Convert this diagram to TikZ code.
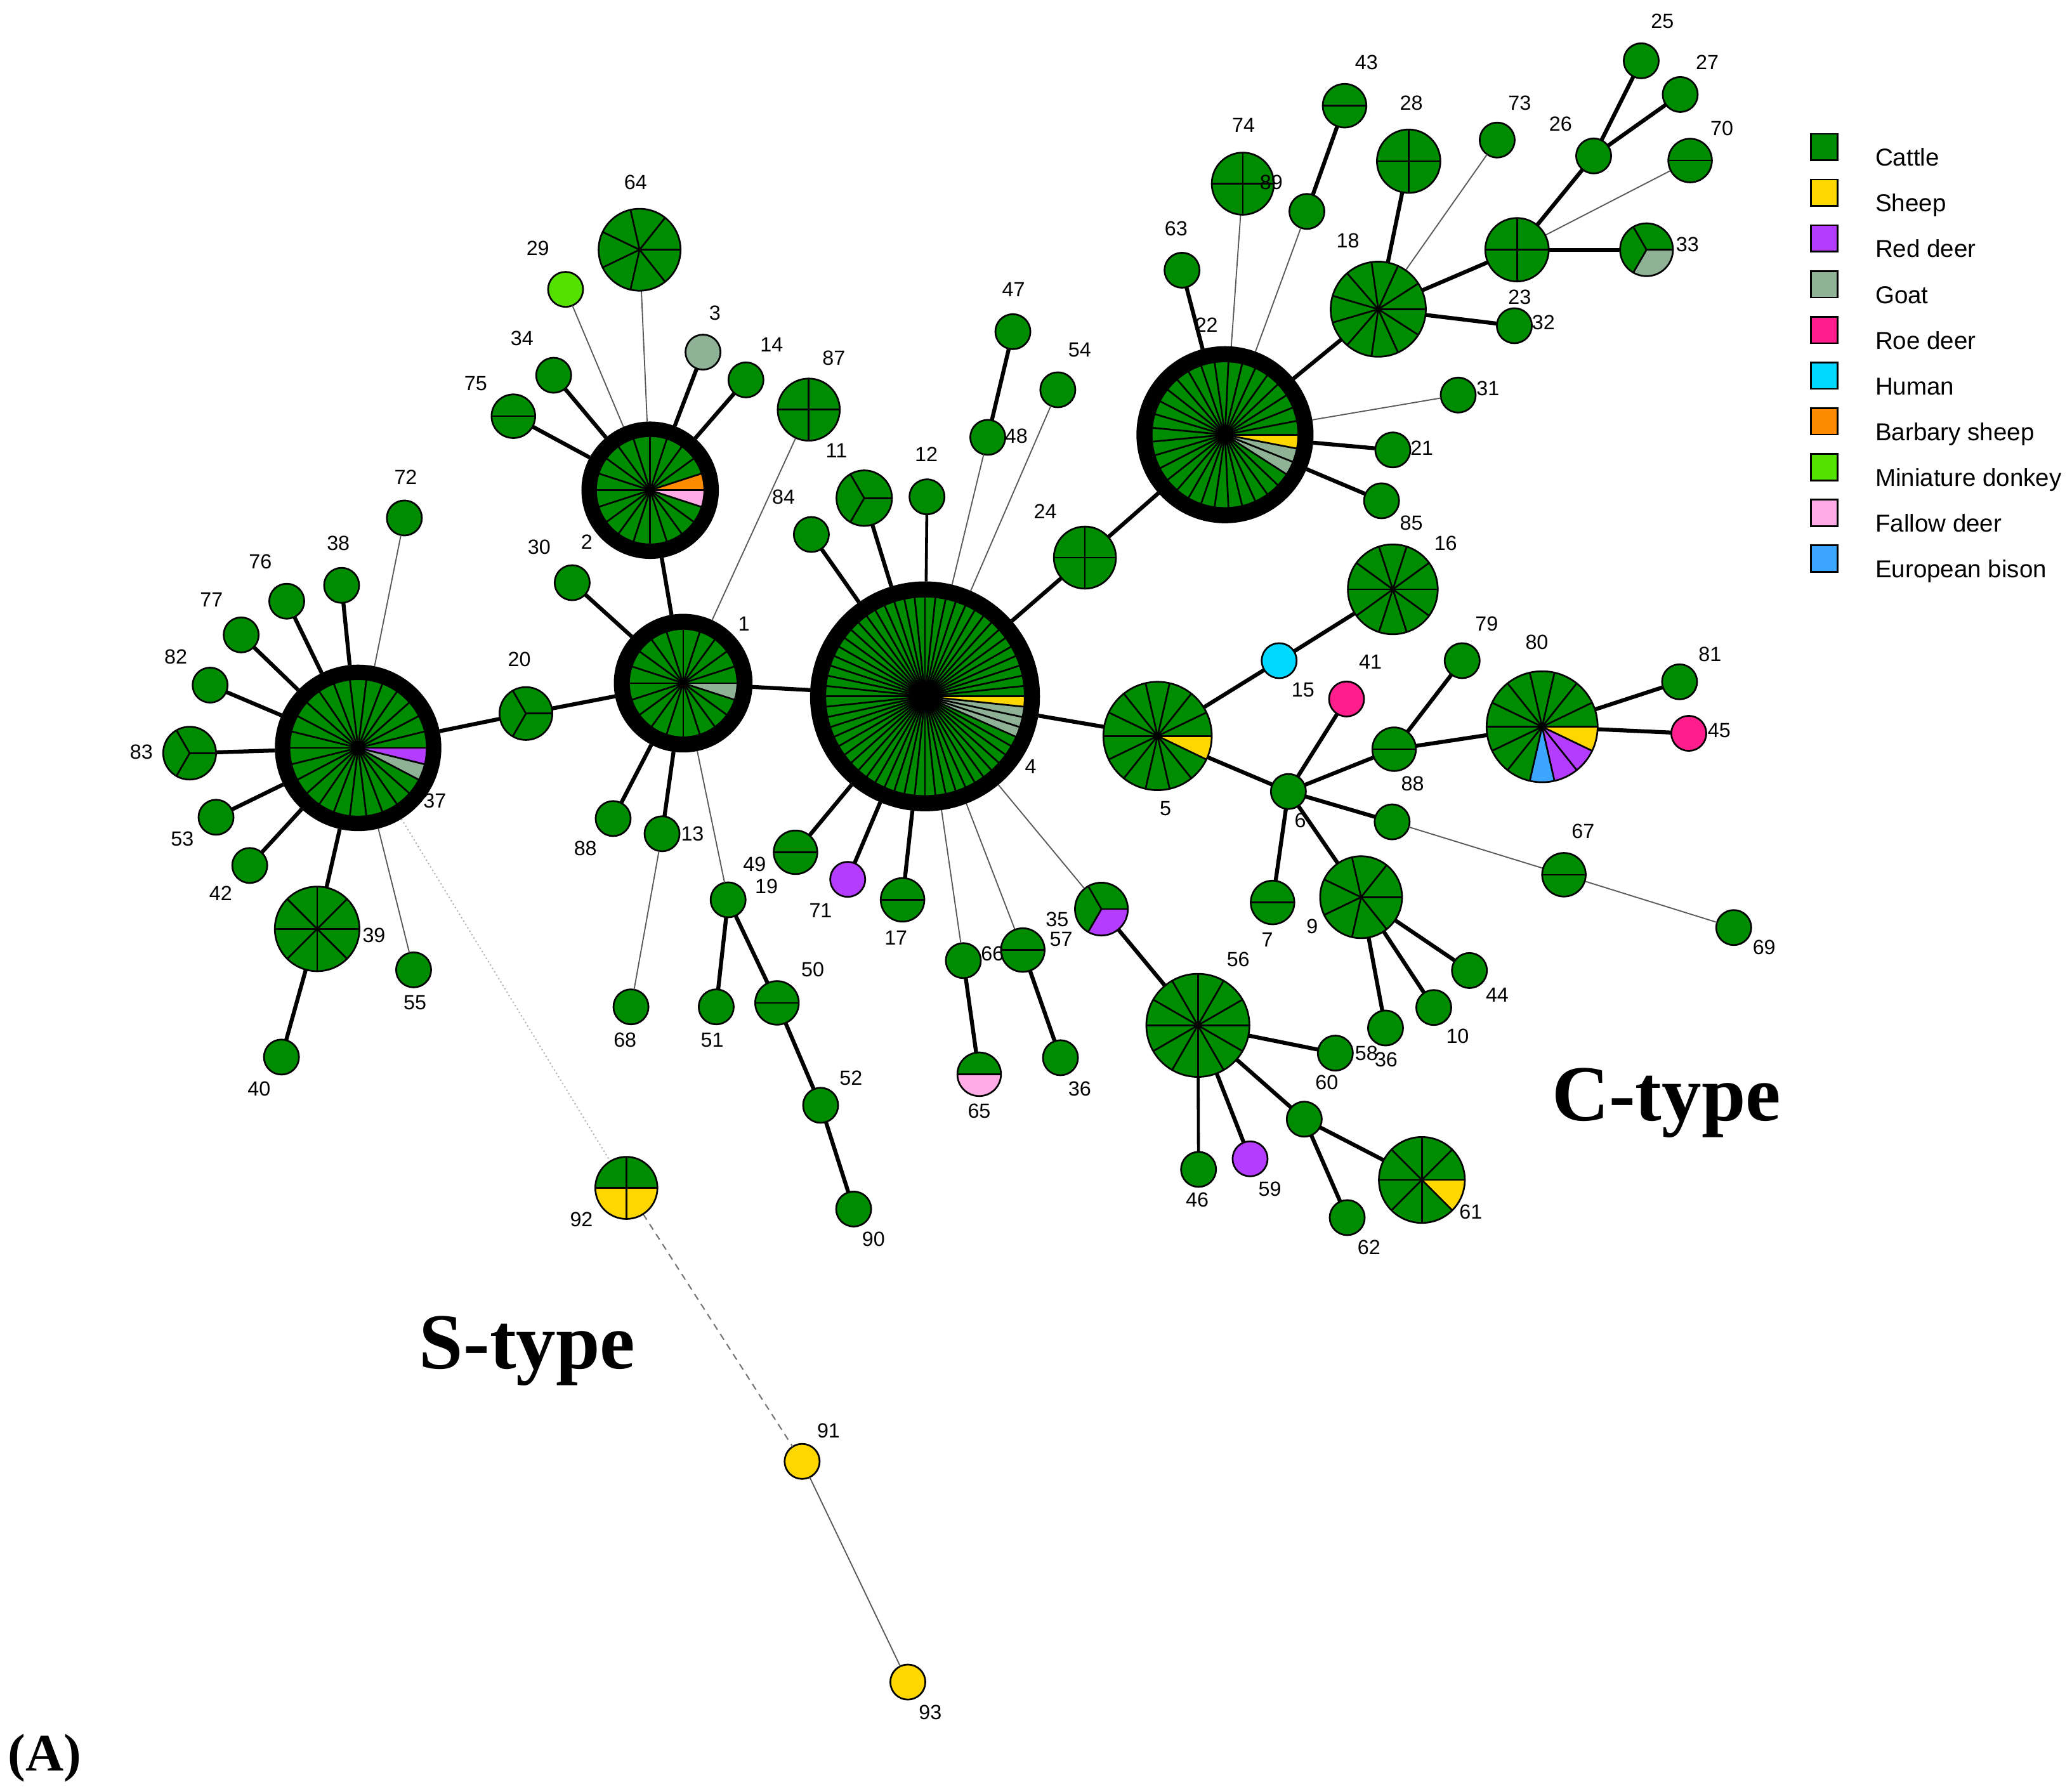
\documentclass[tikz,border=0pt]{standalone}
\usepackage{fontspec}
\setmainfont{Liberation Sans}
\newfontfamily\serifbf{Liberation Serif}
\definecolor{cattle}{RGB}{0,140,0}
\definecolor{sheep}{RGB}{255,215,0}
\definecolor{reddeer}{RGB}{180,60,255}
\definecolor{goat}{RGB}{143,178,150}
\definecolor{roedeer}{RGB}{255,30,140}
\definecolor{human}{RGB}{0,215,255}
\definecolor{barbary}{RGB}{255,140,0}
\definecolor{donkey}{RGB}{85,225,0}
\definecolor{fallow}{RGB}{255,172,230}
\definecolor{bison}{RGB}{60,165,255}
% invisible holder for a pie node
\newcommand{\pn}[4]{\node[circle,inner sep=0pt,outer sep=0pt,minimum size={2*#4 pt}] (#1) at (#2,-#3) {};}
% single-colour node
\newcommand{\sn}[4]{\node[snode,fill=#4] (#1) at (#2,-#3) {};}
% label
\newcommand{\lb}[4]{\node[lbl] (#1) at (#2,-#3) {#4};}
% pie: name, radius, slices, start angle, special colours (clockwise)
\newcommand{\mstpie}[5]{%
  \fill[cattle] (#1.center) circle[radius=#2pt];
  \pgfmathsetmacro{\myDa}{360/#3}
  \foreach \cc [count=\ii from 0] in {#5}{
    \pgfmathsetmacro{\mySa}{#4-\ii*\myDa}
    \fill[fill=\cc] (#1.center) -- ++(\mySa:#2pt) arc[start angle=\mySa, delta angle=-\myDa, radius=#2pt] -- cycle;
  }
  \foreach \kk in {1,...,#3}{
    \pgfmathsetmacro{\myLa}{#4-\kk*\myDa}
    \draw[pline] (#1.center) -- ++(\myLa:#2pt);
  }
  \draw[pline] (#1.center) circle[radius=#2pt];
}
\newcommand{\hubring}[3]{\draw[line width=#3pt,black] (#1.center) circle[radius=#2pt];}
\begin{document}
\begin{tikzpicture}[x=1pt,y=1pt,
  snode/.style={circle,draw=black,line width=1.3pt,inner sep=0pt,outer sep=0pt,minimum size=26.5pt},
  pline/.style={draw=black,line width=1.3pt},
  ek/.style={line width=3pt,black},
  em/.style={line width=2.2pt,black},
  et/.style={line width=0.9pt,black!65},
  edot/.style={line width=1pt,black!30,dotted},
  edash/.style={line width=1pt,black!55,dash pattern=on 5pt off 4pt},
  lbl/.style={font=\fontsize{15.5}{18}\selectfont,inner sep=0pt},
  legsq/.style={draw=black,line width=1.3pt,minimum size=20pt,inner sep=0pt},
  legtx/.style={font=\fontsize{18.5}{22}\selectfont,anchor=base west,inner sep=0pt},
  typetx/.style={font=\serifbf\bfseries\fontsize{60}{70}\selectfont,anchor=base,inner sep=0pt}
]
\useasboundingbox (0,0) rectangle (1568,-1352);

% ---------- hubs and pie holders ----------
\pn{n4}{700}{527}{87}
\pn{n22}{927}{329}{67}
\pn{n37}{271}{566}{63}
\pn{n1}{517}{517}{52.5}
\pn{n2}{492}{371}{52}
\pn{n83}{143.5}{570}{20}
\pn{n39}{240}{703}{32}
\pn{n20}{398}{540}{20}
\pn{n64}{484}{189}{31}
\pn{n75}{388.5}{315}{16.5}
\pn{n87}{612}{310}{23.5}
\pn{n11}{654}{377}{21}
\pn{n24}{821}{422}{23.5}
\pn{n49}{602}{645}{16.5}
\pn{n17}{683}{681}{16.5}
\pn{n50}{588}{759}{16.5}
\pn{n57}{774}{719}{16.5}
\pn{n65}{741}{813}{16.5}
\pn{n35}{833.5}{688}{20}
\pn{n5}{876}{557}{41}
\pn{n74}{940.5}{139}{23.5}
\pn{n43}{1017.5}{80}{16.5}
\pn{n28}{1066}{122}{24}
\pn{n18}{1043}{234}{36}
\pn{n23}{1148}{189}{24}
\pn{n70}{1279}{121.5}{16.5}
\pn{n33}{1246}{189}{20}
\pn{n16}{1054}{446}{34}
\pn{n88b}{1055}{567}{16.5}
\pn{n80}{1167}{550}{42}
\pn{n67}{1183.5}{662}{16.5}
\pn{n7}{963}{683}{16.5}
\pn{n9}{1030}{679}{31}
\pn{n56}{906.5}{776}{39}
\pn{n61}{1076}{893}{32.5}
\pn{n92}{474}{899}{23.5}

% ---------- single-colour nodes ----------
\sn{n82}{159}{518.5}{cattle}
\sn{n77}{182.5}{480.5}{cattle}
\sn{n76}{217}{455}{cattle}
\sn{n38}{258.5}{443}{cattle}
\sn{n72}{306}{392}{cattle}
\sn{n53}{163.5}{618.5}{cattle}
\sn{n42}{189}{655}{cattle}
\sn{n40}{213}{800}{cattle}
\sn{n55}{313}{734}{cattle}
\sn{n30}{433}{441}{cattle}
\sn{n88a}{464}{619.5}{cattle}
\sn{n13}{501}{631}{cattle}
\sn{n19}{551}{681}{cattle}
\sn{n68}{477.5}{762}{cattle}
\sn{n51}{542}{762}{cattle}
\sn{n52}{621}{836.5}{cattle}
\sn{n90}{646}{915}{cattle}
\sn{n29}{428}{219}{donkey}
\sn{n3}{532}{266.5}{goat}
\sn{n14}{564.5}{287.5}{cattle}
\sn{n34}{419}{284}{cattle}
\sn{n84}{614}{404.5}{cattle}
\sn{n12}{701.5}{376}{cattle}
\sn{n48}{747.5}{331}{cattle}
\sn{n47}{766.5}{251}{cattle}
\sn{n54}{800.5}{295}{cattle}
\sn{n71}{641.5}{665.5}{reddeer}
\sn{n66}{729}{727}{cattle}
\sn{n36a}{802.5}{800.5}{cattle}
\sn{n63}{894.5}{204.5}{cattle}
\sn{nUa}{989}{160}{cattle}
\sn{n73}{1133}{106}{cattle}
\sn{n32}{1146}{246.5}{cattle}
\sn{n26}{1206}{118}{cattle}
\sn{n25}{1242}{46}{cattle}
\sn{n27}{1271.5}{71.5}{cattle}
\sn{n31}{1103.5}{299}{cattle}
\sn{n21}{1054}{340.5}{cattle}
\sn{n85}{1045.5}{379}{cattle}
\sn{n15}{968}{500}{human}
\sn{n41}{1019}{529}{roedeer}
\sn{n6}{975}{599}{cattle}
\sn{n79}{1106.5}{500}{cattle}
\sn{n81}{1271}{516}{cattle}
\sn{n45}{1278}{555}{roedeer}
\sn{nUb}{1053.5}{622}{cattle}
\sn{n69}{1312}{702}{cattle}
\sn{n44}{1112}{734.5}{cattle}
\sn{n10}{1085}{762.5}{cattle}
\sn{n36b}{1048.5}{778}{cattle}
\sn{n60}{1010.5}{797}{cattle}
\sn{nUc}{987}{847}{cattle}
\sn{n46}{907}{885}{cattle}
\sn{n59}{946}{877}{reddeer}
\sn{n62}{1019.5}{921.5}{cattle}
\sn{n91}{607}{1106}{sheep}
\sn{n93}{687}{1273}{sheep}

% ---------- connectors ----------
\foreach \a/\b in {n37/n83,n37/n82,n37/n77,n37/n76,n37/n38,n37/n53,n37/n42,n37/n39,n39/n40,n37/n20,n20/n1,
  n1/n30,n1/n2,n1/n88a,n1/n13,n1/n4,n2/n75,n2/n34,n2/n3,n2/n14,n19/n51,n19/n50,n50/n52,n52/n90,
  n4/n84,n4/n11,n4/n49,n4/n71,n4/n17,n4/n24,n24/n22,n4/n5,n48/n47,n66/n65,n57/n36a,n35/n56,
  n22/n63,n22/n18,n22/n21,n22/n85,n18/n28,n18/n23,n18/n32,n23/n26,n26/n25,n26/n27,n23/n33,nUa/n43,
  n5/n15,n15/n16,n5/n6,n6/n41,n6/n88b,n88b/n79,n88b/n80,n80/n81,n80/n45,n6/nUb,n6/n7,n6/n9,
  n9/n36b,n9/n10,n9/n44,n56/n60,n56/n59,n56/nUc,nUc/n62,nUc/n61}
  {\draw[ek] (\a) -- (\b);}
\foreach \a/\b in {n4/n12,n56/n46}
  {\draw[em] (\a) -- (\b);}
\foreach \a/\b in {n37/n72,n37/n55,n2/n29,n2/n64,n1/n87,n1/n19,n13/n68,n4/n48,n4/n54,n4/n66,n4/n57,n4/n35,
  n22/n74,n22/nUa,n22/n31,n18/n73,n23/n70,nUb/n67,n67/n69,n91/n93}
  {\draw[et] (\a) -- (\b);}
\draw[edot] (n37) -- (n92);
\draw[edash] (n92) -- (n91);

% ---------- pies ----------
\mstpie{n4}{75.5}{60}{0}{sheep,goat,goat,goat}
\hubring{n4}{81}{12}
\mstpie{n22}{55.5}{33}{0}{sheep,goat,goat}
\hubring{n22}{61}{12}
\mstpie{n37}{52}{26}{0}{reddeer,goat}
\hubring{n37}{57.5}{11}
\mstpie{n1}{41}{20}{0}{goat}
\hubring{n1}{46.5}{12}
\mstpie{n2}{41}{20}{18}{barbary,fallow}
\hubring{n2}{46.5}{11}
\mstpie{n83}{20}{3}{0}{cattle}
\mstpie{n39}{32}{8}{0}{cattle}
\mstpie{n20}{20}{3}{0}{cattle}
\mstpie{n64}{31}{7}{0}{cattle}
\mstpie{n75}{16.5}{2}{0}{cattle}
\mstpie{n87}{23.5}{4}{0}{cattle}
\mstpie{n11}{21}{3}{0}{cattle}
\mstpie{n24}{23.5}{4}{0}{cattle}
\mstpie{n49}{16.5}{2}{0}{cattle}
\mstpie{n17}{16.5}{2}{0}{cattle}
\mstpie{n50}{16.5}{2}{0}{cattle}
\mstpie{n57}{16.5}{2}{0}{cattle}
\mstpie{n65}{16.5}{2}{0}{fallow}
\mstpie{n35}{20}{3}{0}{reddeer}
\mstpie{n5}{41}{14}{0}{sheep}
\mstpie{n74}{23.5}{4}{0}{cattle}
\mstpie{n43}{16.5}{2}{0}{cattle}
\mstpie{n28}{24}{4}{0}{cattle}
\mstpie{n18}{36}{11}{0}{cattle}
\mstpie{n23}{24}{4}{0}{cattle}
\mstpie{n70}{16.5}{2}{0}{cattle}
\mstpie{n33}{20}{3}{0}{goat}
\mstpie{n16}{34}{10}{0}{cattle}
\mstpie{n88b}{16.5}{2}{0}{cattle}
\mstpie{n80}{42}{14}{0}{sheep,reddeer,reddeer,bison}
\mstpie{n67}{16.5}{2}{0}{cattle}
\mstpie{n7}{16.5}{2}{0}{cattle}
\mstpie{n9}{31}{7}{0}{cattle}
\mstpie{n56}{39}{12}{0}{cattle}
\mstpie{n61}{32.5}{8}{0}{sheep}
\mstpie{n92}{23.5}{4}{0}{sheep,sheep}

% ---------- labels ----------
\lb{l72}{307}{361}{72}
\lb{l38}{256}{411}{38}
\lb{l76}{197}{425}{76}
\lb{l77}{160}{454}{77}
\lb{l82}{133}{497}{82}
\lb{l83}{107}{569}{83}
\lb{l53}{138}{635}{53}
\lb{l42}{167}{676}{42}
\lb{l37}{329}{606}{37}
\lb{l39}{283}{708}{39}
\lb{l40}{196}{824}{40}
\lb{l55}{314}{759}{55}
\lb{l20}{393}{499}{20}
\lb{l30}{408}{414}{30}
\lb{l2}{444}{410}{2}
\lb{l1}{563}{472}{1}
\lb{l88a}{443}{642}{88}
\lb{l13}{524}{631}{13}
\lb{l49}{571}{654}{49}
\lb{l19}{580}{671}{19}
\lb{l68}{473}{787}{68}
\lb{l51}{539}{787}{51}
\lb{l50}{615}{734}{50}
\lb{l52}{644}{816}{52}
\lb{l90}{661}{938}{90}
\lb{l64}{481}{138}{64}
\lb{l29}{407}{188}{29}
\lb{l3}{541}{237}{3}
\lb{l14}{584}{261}{14}
\lb{l34}{395}{256}{34}
\lb{l75}{360}{290}{75}
\lb{l87}{631}{271}{87}
\lb{l11}{633}{341}{11}
\lb{l84}{593}{376}{84}
\lb{l12}{701}{344}{12}
\lb{l47}{767}{219}{47}
\lb{l48}{769}{330}{48}
\lb{l54}{817}{265}{54}
\lb{l24}{791}{387}{24}
\lb{l4}{780}{580}{4}
\lb{l71}{621}{689}{71}
\lb{l17}{678}{710}{17}
\lb{l66}{751}{722}{66}
\lb{l65}{741}{841}{65}
\lb{l57}{803}{711}{57}
\lb{l36a}{817}{824}{36}
\lb{l35}{800}{696}{35}
\lb{l5}{882}{612}{5}
\lb{l22}{913}{246}{22}
\lb{l63}{890}{173}{63}
\lb{l74}{941}{95}{74}
\lb{l89}{962}{138}{89}
\lb{l43}{1034}{47}{43}
\lb{l28}{1068}{78}{28}
\lb{l73}{1150}{78}{73}
\lb{l18}{1020}{182}{18}
\lb{l23}{1150}{225}{23}
\lb{l32}{1168}{244}{32}
\lb{l26}{1181}{94}{26}
\lb{l25}{1258}{16}{25}
\lb{l27}{1292}{47}{27}
\lb{l70}{1303}{97}{70}
\lb{l33}{1277}{185}{33}
\lb{l31}{1126}{294}{31}
\lb{l21}{1076}{339}{21}
\lb{l85}{1068}{396}{85}
\lb{l16}{1094}{411}{16}
\lb{l15}{986}{522}{15}
\lb{l41}{1037}{501}{41}
\lb{l6}{984}{621}{6}
\lb{l79}{1125}{472}{79}
\lb{l88b}{1069}{593}{88}
\lb{l80}{1163}{486}{80}
\lb{l81}{1294}{495}{81}
\lb{l45}{1301}{553}{45}
\lb{l67}{1198}{629}{67}
\lb{l69}{1335}{717}{69}
\lb{l7}{959}{711}{7}
\lb{l9}{993}{701}{9}
\lb{l44}{1133}{753}{44}
\lb{l10}{1103}{784}{10}
\lb{l58}{1034}{797}{58}
\lb{l36b}{1049}{802}{36}
\lb{l60}{1004}{819}{60}
\lb{l56}{937}{726}{56}
\lb{l46}{906}{908}{46}
\lb{l59}{961}{900}{59}
\lb{l62}{1036}{944}{62}
\lb{l61}{1113}{917}{61}
\lb{l92}{440}{923}{92}
\lb{l91}{627}{1083}{91}
\lb{l93}{704}{1296}{93}

% ---------- type texts ----------
\node[typetx] (ctype) at (1261,-848) {C-type};
\node[typetx] (stype) at (399,-1036) {S-type};
\node[font=\serifbf\bfseries\fontsize{40}{46}\selectfont,anchor=base west,inner sep=0pt] (panel) at (6,-1340) {(A)};

% ---------- legend ----------
\foreach \col/\txt/\yy [count=\q] in {cattle/Cattle/111.3, sheep/Sheep/145.9, reddeer/Red deer/180.5,
  goat/Goat/215.1, roedeer/Roe deer/249.7, human/Human/284.3, barbary/Barbary sheep/318.9,
  donkey/Miniature donkey/353.5, fallow/Fallow deer/388.1, bison/European bison/422.7}{
  \node[legsq,fill=\col] (key\q) at (1380.5,-\yy) {};
  \node[legtx] (keytxt\q) at (1419,-\yy-14.4) {\txt};
}
\end{tikzpicture}
\end{document}
